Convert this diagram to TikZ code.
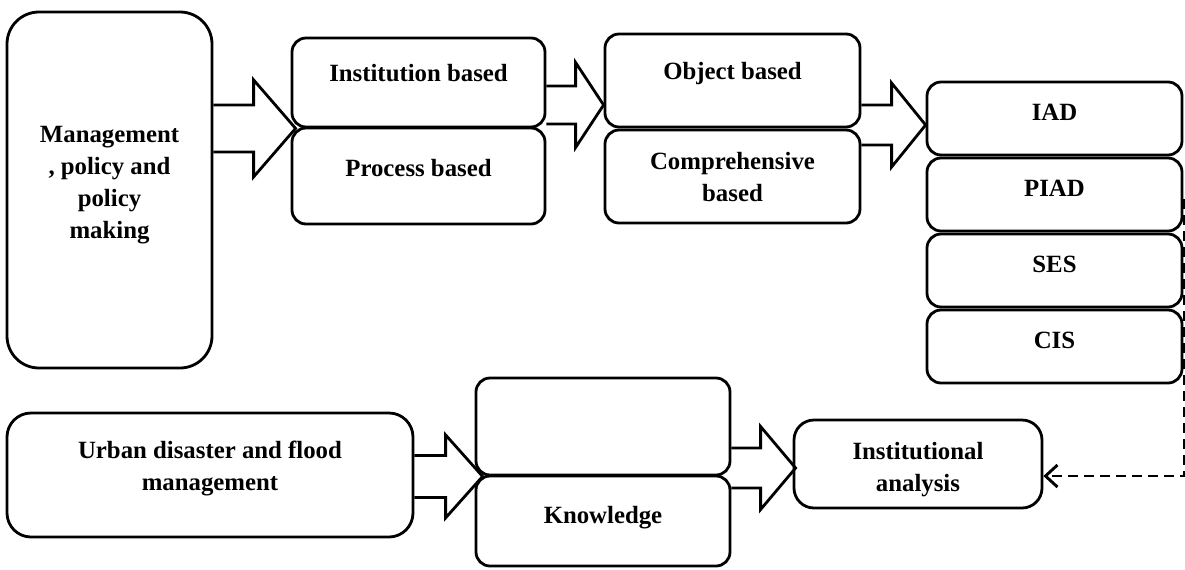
\documentclass[tikz,border=0pt]{standalone}
\usepackage{fontspec}
\setmainfont{Liberation Serif}
\usetikzlibrary{positioning,calc,arrows.meta}

% hollow block arrow: start, tip, shaft half, head half, head length
\newcommand{\fatarrow}[5]{%
  \draw[blockarr] ($(#1)+(0,-#3)$) -- ($(#2)+(-#5,-#3)$) -- ($(#2)+(-#5,-#4)$) -- (#2)
    -- ($(#2)+(-#5,#4)$) -- ($(#2)+(-#5,#3)$) -- ($(#1)+(0,#3)$);}

\begin{document}
\begin{tikzpicture}[x=0.5pt, y=-0.5pt,
    box/.style={draw, line width=1.4pt, rounded corners=7pt, inner sep=0pt},
    txt/.style={align=center, inner sep=0pt, font=\fontsize{12.4}{16}\selectfont\bfseries},
    blockarr/.style={draw, line width=1.4pt, line join=miter},
    dashline/.style={line width=1.4pt, dash pattern=on 5pt off 3pt, -{Straight Barb[length=6pt,width=11pt]}}]
  \useasboundingbox (0,0) rectangle (1185,569);

  % left column
  \node[box, rounded corners=16pt, minimum width=102.5pt, minimum height=178pt] (mgmt) at (109.5,190) {};
  \node[txt, below=57.5pt of mgmt.north] (mgmt-t) {Management\\, policy and\\policy\\making};

  % second and third column
  \node[box, minimum width=126.5pt, minimum height=44.5pt] (inst) at (418.5,82.5) {};
  \node[box, minimum width=126.5pt, minimum height=48pt] (proc) at (418.5,176) {};
  \node[box, minimum width=127.5pt, minimum height=46.5pt] (obj) at (732.5,80.5) {};
  \node[box, minimum width=127.5pt, minimum height=46.5pt] (comp) at (732.5,176.5) {};
  \node[txt, below=13.5pt of inst.north] (inst-t) {Institution based};
  \node[txt, below=16pt of proc.north] (proc-t) {Process based};
  \node[txt, below=14.5pt of obj.north] (obj-t) {Object based};
  \node[txt, below=11.5pt of comp.north] (comp-t) {Comprehensive\\based};

  % frameworks
  \foreach [count=\i] \t in {IAD,PIAD,SES,CIS} {
    \node[box, minimum width=127.5pt, minimum height=36.5pt] (r\i) at (1054.5,42.5+76*\i) {};
    \node[txt, below=11.5pt of r\i.north] (r\i-t) {\t};
  }

  % bottom row
  \node[box, rounded corners=12pt, minimum width=203pt, minimum height=62pt] (urban) at (210,475) {};
  \node[box, minimum width=127pt, minimum height=48.5pt] (blank) at (603,426.5) {};
  \node[box, minimum width=127pt, minimum height=45pt] (know) at (603,521) {};
  \node[box, rounded corners=10pt, minimum width=124pt, minimum height=44pt] (instan) at (918,464) {};
  \node[txt, below=14.5pt of urban.north] (urban-t) {Urban disaster and flood\\management};
  \node[txt, below=15.5pt of know.north] (know-t) {Knowledge};
  \node[txt, below=11.5pt of instan.north] (instan-t) {Institutional\\analysis};

  % block arrows
  \coordinate (a1) at ($(inst.south west)+(5,0)$);
  \coordinate (a2) at ($(obj.west)+(0,24.5)$);
  \coordinate (a3) at ($(r1.west)+(0,6.5)$);
  \coordinate (a4) at ($(blank.south west)+(8,0)$);
  \coordinate (a5) at ($(instan.west)+(3,4)$);
  \fatarrow{mgmt.east |- a1}{a1}{23.5}{48.5}{42}
  \fatarrow{inst.east |- a2}{a2}{19}{42.5}{28}
  \fatarrow{obj.east |- a3}{a3}{20}{42}{34}
  \fatarrow{urban.east |- a4}{a4}{21}{41.5}{37}
  \fatarrow{blank.east |- a5}{a5}{20}{41.5}{35}

  % feedback
  \coordinate (d1) at ($(r2.east)+(1,4)$);
  \coordinate (d2) at ($(instan.east)+(0,12)$);
  \draw[dashline, gray!70, shift={(1,5)}] (d1) |- (d2);
  \draw[dashline] (d1) |- (d2);
\end{tikzpicture}
\end{document}
